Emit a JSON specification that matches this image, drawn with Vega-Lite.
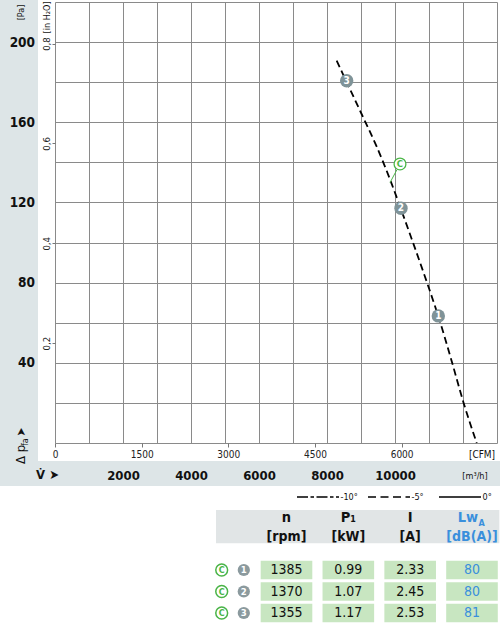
{
  "$schema": "https://vega.github.io/schema/vega-lite/v6.json",
  "width": 442,
  "height": 441,
  "autosize": {"type": "none"},
  "padding": {"left": 55, "top": 2, "right": 3, "bottom": 180},
  "background": "white",
  "config": {
    "view": {"stroke": null},
    "font": "Liberation Sans Narrow, DejaVu Sans Condensed, sans-serif",
    "text": {"font": "Liberation Sans Narrow, DejaVu Sans Condensed, sans-serif"},
    "axis": {"labelFont": "Liberation Sans Narrow, DejaVu Sans Condensed, sans-serif"}
  },
  "datasets": {
    "curve": [
      {"flow": 8285, "pa": 190.7},
      {"flow": 8676, "pa": 176.5},
      {"flow": 9021, "pa": 164.0},
      {"flow": 9462, "pa": 147.8},
      {"flow": 9853, "pa": 131.5},
      {"flow": 10147, "pa": 118.0},
      {"flow": 10491, "pa": 101.8},
      {"flow": 10932, "pa": 80.5},
      {"flow": 11274, "pa": 63.2},
      {"flow": 11668, "pa": 40.8},
      {"flow": 12009, "pa": 20.5},
      {"flow": 12403, "pa": 0}
    ],
    "points": [
      {"flow": 11274, "pa": 63.4, "num": "1"},
      {"flow": 10176, "pa": 117.1, "num": "2"},
      {"flow": 8579, "pa": 180.7, "num": "3"}
    ],
    "cpoint": [{"flow": 10147, "pa": 139.2, "label": "C"}],
    "leader": [{"flow": 10056, "pa": 136.3, "flow2": 9853, "pa2": 129.9}],
    "angles": [{"angle": "-10°"}, {"angle": "-5°"}, {"angle": "0°"}],
    "header": [
      {"col": "n", "t1": "n", "t2": "[rpm]"},
      {"col": "P1", "t1": "P₁", "t2": "[kW]"},
      {"col": "I", "t1": "I", "t2": "[A]"},
      {"col": "LwA", "t1": "Lw", "t2": "[dB(A)]"}
    ],
    "table": [
      {"row": "r1", "col": "n", "value": "1385"},
      {"row": "r1", "col": "P1", "value": "0.99"},
      {"row": "r1", "col": "I", "value": "2.33"},
      {"row": "r1", "col": "LwA", "value": "80"},
      {"row": "r2", "col": "n", "value": "1370"},
      {"row": "r2", "col": "P1", "value": "1.07"},
      {"row": "r2", "col": "I", "value": "2.45"},
      {"row": "r2", "col": "LwA", "value": "80"},
      {"row": "r3", "col": "n", "value": "1355"},
      {"row": "r3", "col": "P1", "value": "1.17"},
      {"row": "r3", "col": "I", "value": "2.53"},
      {"row": "r3", "col": "LwA", "value": "81"}
    ],
    "rows": [
      {"row": "r1", "num": "1"},
      {"row": "r2", "num": "2"},
      {"row": "r3", "num": "3"}
    ]
  },
  "layer": [
    {
      "layer": [
        {
          "data": {"values": [{}]},
          "mark": {"type": "rect", "fill": "#dde5e7"},
          "encoding": {
            "x": {"datum": -1620, "type": "quantitative"},
            "x2": {"datum": -500},
            "y": {"datum": 222, "type": "quantitative"},
            "y2": {"datum": -9}
          }
        },
        {
          "data": {"values": [{}]},
          "mark": {"type": "rect", "fill": "#dde5e7"},
          "encoding": {
            "x": {"datum": -1620, "type": "quantitative"},
            "x2": {"datum": 13100},
            "y": {"datum": -9, "type": "quantitative"},
            "y2": {"datum": -21.5}
          }
        },
        {
          "data": {"name": "curve"},
          "mark": {"type": "line", "color": "black", "strokeWidth": 1.8, "strokeDash": [7, 4], "interpolate": "monotone"},
          "encoding": {
            "x": {
              "field": "flow", "type": "quantitative",
              "scale": {"domain": [0, 13000], "nice": false, "zero": false},
              "axis": {"orient": "bottom", "values": [0,1000,2000,3000,4000,5000,6000,7000,8000,9000,10000,11000,12000,13000], "tickCount": 40, "grid": true, "gridColor": "#8a8a8a", "gridWidth": 1, "labels": false, "ticks": false, "domain": false, "title": null}
            },
            "y": {
              "field": "pa", "type": "quantitative",
              "scale": {"domain": [0, 220], "nice": false, "zero": false},
              "axis": {"orient": "left", "values": [0,20,40,60,80,100,120,140,160,180,200,220], "tickCount": 40, "grid": true, "gridColor": "#8a8a8a", "gridWidth": 1, "labels": false, "ticks": false, "domain": false, "title": null}
            }
          }
        },
        {
          "data": {"name": "leader"},
          "mark": {"type": "rule", "color": "#4cb748", "strokeWidth": 1},
          "encoding": {
            "x": {"field": "flow", "type": "quantitative"},
            "y": {"field": "pa", "type": "quantitative"},
            "x2": {"field": "flow2"},
            "y2": {"field": "pa2"}
          }
        },
        {
          "data": {"name": "cpoint"},
          "mark": {"type": "point", "shape": "circle", "size": 140, "filled": false, "fill": "white", "stroke": "#4cb748", "strokeWidth": 1.3, "opacity": 1},
          "encoding": {
            "x": {"field": "flow", "type": "quantitative"},
            "y": {"field": "pa", "type": "quantitative"}
          }
        },
        {
          "data": {"name": "cpoint"},
          "mark": {"type": "text", "color": "#4cb748", "fontSize": 9.5, "fontWeight": "bold", "align": "center", "baseline": "middle"},
          "encoding": {
            "x": {"field": "flow", "type": "quantitative"},
            "y": {"field": "pa", "type": "quantitative"},
            "text": {"field": "label"}
          }
        },
        {
          "data": {"name": "points"},
          "mark": {"type": "point", "shape": "circle", "size": 180, "filled": true, "color": "#7f9398", "opacity": 1},
          "encoding": {
            "x": {"field": "flow", "type": "quantitative"},
            "y": {"field": "pa", "type": "quantitative"}
          }
        },
        {
          "data": {"name": "points"},
          "mark": {"type": "text", "color": "white", "fontSize": 10, "fontWeight": "bold", "align": "center", "baseline": "middle"},
          "encoding": {
            "x": {"field": "flow", "type": "quantitative"},
            "y": {"field": "pa", "type": "quantitative"},
            "text": {"field": "num"}
          }
        },
        {
          "data": {"values": [{}]},
          "mark": {"type": "text", "text": "[Pa]", "angle": 270, "fontSize": 9, "align": "center", "baseline": "middle", "color": "#111"},
          "encoding": {"x": {"datum": -1000, "type": "quantitative"}, "y": {"datum": 214.8, "type": "quantitative"}}
        },
        {
          "data": {"values": [{}]},
          "mark": {"type": "text", "text": "[in H₂O]", "angle": 270, "fontSize": 9, "align": "center", "baseline": "middle", "color": "#111"},
          "encoding": {"x": {"datum": -235, "type": "quantitative"}, "y": {"datum": 212.3, "type": "quantitative"}}
        },
        {
          "data": {"values": [{}]},
          "mark": {"type": "text", "text": "Δ p", "angle": 270, "fontSize": 13, "align": "left", "baseline": "middle", "color": "#111"},
          "encoding": {"x": {"datum": -1000, "type": "quantitative"}, "y": {"datum": -10.5, "type": "quantitative"}}
        },
        {
          "data": {"values": [{}]},
          "mark": {"type": "text", "text": "fa", "angle": 270, "fontSize": 9, "align": "left", "baseline": "middle", "color": "#111"},
          "encoding": {"x": {"datum": -880, "type": "quantitative"}, "y": {"datum": -1.5, "type": "quantitative"}}
        },
        {
          "data": {"values": [{}]},
          "mark": {"type": "text", "text": "➤", "angle": 270, "fontSize": 12, "align": "center", "baseline": "middle", "color": "#111"},
          "encoding": {"x": {"datum": -1000, "type": "quantitative"}, "y": {"datum": 5.5, "type": "quantitative"}}
        },
        {
          "data": {"values": [{}]},
          "mark": {"type": "text", "text": "V̇ ➤", "fontSize": 13, "fontWeight": "bold", "align": "center", "baseline": "middle", "color": "#111"},
          "encoding": {"x": {"datum": -220, "type": "quantitative"}, "y": {"datum": -16, "type": "quantitative"}}
        },
        {
          "data": {"values": [{}]},
          "mark": {"type": "text", "text": "[m³/h]", "fontSize": 9, "align": "center", "baseline": "middle", "color": "#111"},
          "encoding": {"x": {"datum": 12353, "type": "quantitative"}, "y": {"datum": -16.5, "type": "quantitative"}}
        },
        {
          "data": {"values": [{}]},
          "mark": {"type": "text", "text": "[CFM]", "fontSize": 10, "align": "center", "baseline": "middle", "color": "#111"},
          "encoding": {"x": {"datum": 12559, "type": "quantitative"}, "y": {"datum": -6, "type": "quantitative"}}
        }
      ]
    },
    {
      "data": {"values": [{}]},
      "mark": {"type": "rule", "opacity": 0},
      "encoding": {
        "x": {"datum": 0, "type": "quantitative", "scale": {"domain": [0, 13000], "nice": false, "zero": false},
          "axis": {"orient": "bottom", "values": [2000, 4000, 6000, 8000, 10000], "tickCount": 40, "format": "d", "grid": false, "ticks": false, "tickSize": 0, "domain": false, "labelPadding": 32, "labelBaseline": "middle", "labelFontSize": 13, "labelFontWeight": "bold", "labelColor": "#111", "labelFlush": false, "labelOverlap": false, "title": null, "zindex": 1}}
      }
    },
    {
      "data": {"values": [{}]},
      "mark": {"type": "rule", "opacity": 0},
      "encoding": {
        "x": {"datum": 0, "type": "quantitative", "scale": {"domain": [0, 7651.5], "nice": false, "zero": false},
          "axis": {"orient": "bottom", "values": [0, 1500, 3000, 4500, 6000], "tickCount": 40, "format": "d", "grid": false, "ticks": true, "tickSize": 4, "tickColor": "#777", "domain": false, "labelPadding": 7, "labelBaseline": "middle", "labelFontSize": 10, "labelColor": "#222", "labelFlush": false, "labelOverlap": false, "title": null, "zindex": 1}}
      }
    },
    {
      "data": {"values": [{}]},
      "mark": {"type": "rule", "opacity": 0},
      "encoding": {
        "y": {"datum": 0, "type": "quantitative", "scale": {"domain": [0, 220], "nice": false, "zero": false},
          "axis": {"orient": "left", "values": [40, 80, 120, 160, 200], "tickCount": 40, "grid": false, "ticks": false, "tickSize": 0, "domain": false, "labelPadding": 20.5, "labelAlign": "right", "labelBaseline": "middle", "labelFontSize": 13.5, "labelFontWeight": "bold", "labelColor": "#111", "labelOverlap": false, "title": null, "zindex": 1}}
      }
    },
    {
      "data": {"values": [{}]},
      "mark": {"type": "rule", "opacity": 0},
      "encoding": {
        "y": {"datum": 0, "type": "quantitative", "scale": {"domain": [0, 0.88322], "nice": false, "zero": false},
          "axis": {"orient": "left", "values": [0.2, 0.4, 0.6, 0.8], "tickCount": 40, "labelExpr": "replace(format(datum.value, '.1f'), '.', ',')", "grid": false, "ticks": true, "tickSize": 3, "tickColor": "#777", "domain": false, "labelAngle": 270, "labelAlign": "center", "labelBaseline": "bottom", "labelPadding": 1, "labelFontSize": 9.5, "labelColor": "#222", "labelOverlap": false, "labelFlush": false, "title": null, "zindex": 1}}
      }
    },
    {
      "data": {"name": "angles"},
      "layer": [
        {
          "mark": {"type": "point", "shape": "M-1,0L1,0", "size": 1764, "filled": false, "stroke": "black", "strokeWidth": 1.3, "opacity": 1},
          "encoding": {
            "x": {"field": "angle", "type": "nominal", "scale": {"type": "point", "domain": ["-10°", "-5°", "0°"], "range": [263, 405], "padding": 0}, "axis": null},
            "y": {"field": "angle", "type": "nominal", "scale": {"type": "point", "domain": ["-10°", "-5°", "0°"], "range": [495, 495], "padding": 0}, "axis": null},
            "strokeDash": {"field": "angle", "type": "nominal", "scale": {"domain": ["-10°", "-5°", "0°"], "range": [[11, 2.5, 3.5, 2.5], [8, 4.5], [1, 0]]}, "legend": null}
          }
        },
        {
          "mark": {"type": "text", "align": "left", "baseline": "middle", "fontSize": 9, "xOffset": 22.5, "color": "#111"},
          "encoding": {
            "x": {"field": "angle", "type": "nominal"},
            "y": {"field": "angle", "type": "nominal"},
            "text": {"field": "angle"}
          }
        }
      ]
    },
    {
      "layer": [
        {
          "data": {"values": [{}]},
          "mark": {"type": "point", "shape": "M-1,-0.1175L1,-0.1175L1,0.1175L-1,0.1175Z", "size": 80259, "filled": true, "color": "#e1e5e6", "opacity": 1, "strokeWidth": 0, "xOffset": 9.35, "yOffset": -0.35},
          "encoding": {
            "x": {"datum": "P1", "type": "nominal", "scale": {"type": "point", "domain": ["n", "P1", "I", "LwA"], "range": [231.5, 417], "padding": 0}, "axis": null},
            "y": {"datum": "header", "type": "nominal", "scale": {"type": "point", "domain": ["header", "gap", "r1", "r2", "r3"], "range": [525, 611], "padding": 0}, "axis": null}
          }
        },
        {
          "data": {"name": "table"},
          "mark": {"type": "point", "shape": "M-1,-0.3566L1,-0.3566L1,0.3566L-1,0.3566Z", "size": 2663, "filled": true, "color": "#c8e6c1", "opacity": 1, "strokeWidth": 0},
          "encoding": {
            "x": {"field": "col", "type": "nominal"},
            "y": {"field": "row", "type": "nominal"}
          }
        },
        {
          "data": {"name": "table"},
          "mark": {"type": "text", "fontSize": 14, "align": "center", "baseline": "middle"},
          "encoding": {
            "x": {"field": "col", "type": "nominal"},
            "y": {"field": "row", "type": "nominal"},
            "text": {"field": "value"},
            "color": {"condition": {"test": "datum.col === 'LwA'", "value": "#3a8fdc"}, "value": "#111"}
          }
        },
        {
          "data": {"name": "header"},
          "transform": [{"filter": "datum.col !== 'LwA'"}],
          "mark": {"type": "text", "fontSize": 14.5, "fontWeight": "bold", "align": "center", "baseline": "middle", "yOffset": -8.7, "color": "#111"},
          "encoding": {
            "x": {"field": "col", "type": "nominal"},
            "y": {"datum": "header", "type": "nominal"},
            "text": {"field": "t1"}
          }
        },
        {
          "data": {"name": "header"},
          "transform": [{"filter": "datum.col === 'LwA'"}],
          "mark": {"type": "text", "fontSize": 14.5, "fontWeight": "bold", "align": "right", "baseline": "middle", "yOffset": -8.7, "xOffset": 6, "color": "#3a8fdc"},
          "encoding": {
            "x": {"field": "col", "type": "nominal"},
            "y": {"datum": "header", "type": "nominal"},
            "text": {"field": "t1"}
          }
        },
        {
          "data": {"values": [{}]},
          "mark": {"type": "text", "text": "A", "fontSize": 9, "fontWeight": "bold", "align": "left", "baseline": "middle", "color": "#3a8fdc", "xOffset": 6.5, "yOffset": -4},
          "encoding": {
            "x": {"datum": "LwA", "type": "nominal"},
            "y": {"datum": "header", "type": "nominal"}
          }
        },
        {
          "data": {"name": "header"},
          "mark": {"type": "text", "fontSize": 14, "fontWeight": "bold", "align": "center", "baseline": "middle", "yOffset": 9.7},
          "encoding": {
            "x": {"field": "col", "type": "nominal"},
            "y": {"datum": "header", "type": "nominal"},
            "text": {"field": "t2"},
            "color": {"condition": {"test": "datum.col === 'LwA'", "value": "#3a8fdc"}, "value": "#111"}
          }
        },
        {
          "data": {"name": "rows"},
          "mark": {"type": "point", "shape": "circle", "size": 140, "filled": false, "fill": "white", "stroke": "#49b447", "strokeWidth": 1.5, "opacity": 1, "xOffset": -64.8},
          "encoding": {
            "x": {"datum": "n", "type": "nominal"},
            "y": {"field": "row", "type": "nominal"}
          }
        },
        {
          "data": {"name": "rows"},
          "mark": {"type": "text", "text": "C", "fontSize": 9, "fontWeight": "bold", "align": "center", "baseline": "middle", "color": "#49b447", "xOffset": -64.8},
          "encoding": {
            "x": {"datum": "n", "type": "nominal"},
            "y": {"field": "row", "type": "nominal"}
          }
        },
        {
          "data": {"name": "rows"},
          "mark": {"type": "point", "shape": "circle", "size": 150, "filled": true, "color": "#8b9a9e", "opacity": 1, "xOffset": -42.7},
          "encoding": {
            "x": {"datum": "n", "type": "nominal"},
            "y": {"field": "row", "type": "nominal"}
          }
        },
        {
          "data": {"name": "rows"},
          "mark": {"type": "text", "fontSize": 9.5, "fontWeight": "bold", "align": "center", "baseline": "middle", "color": "white", "xOffset": -42.7},
          "encoding": {
            "x": {"datum": "n", "type": "nominal"},
            "y": {"field": "row", "type": "nominal"},
            "text": {"field": "num"}
          }
        }
      ]
    }
  ],
  "resolve": {
    "scale": {"x": "independent", "y": "independent", "strokeDash": "independent"},
    "axis": {"x": "independent", "y": "independent"}
  }
}
